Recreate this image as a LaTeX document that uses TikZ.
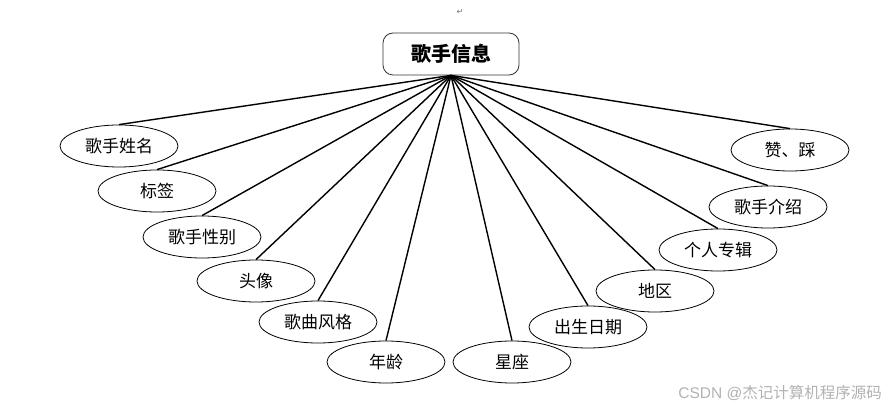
\documentclass[tikz,border=0pt]{standalone}
\usepackage{fontspec}
\setmainfont{Liberation Sans}
\newfontfamily\cjk{Noto Sans CJK SC}
\newfontfamily\dejavu{DejaVu Sans}
\usetikzlibrary{shapes.geometric}
\begin{document}
\begin{tikzpicture}[x=1pt,y=-1pt,
  attr/.style={draw=black,line width=0.8pt,ellipse,minimum width=118pt,minimum height=42pt,inner sep=0pt,
    font=\cjk\fontsize{17}{17}\selectfont},
  head/.style={draw=black!80,line width=0.8pt,rounded corners=10pt,minimum width=136pt,minimum height=42pt,
    inner sep=0pt,font=\cjk\bfseries\fontsize{20}{20}\selectfont},
  link/.style={line width=1.4pt}]
\useasboundingbox (0,0) rectangle (887,414);
\fill[white] (0,0) rectangle (887,414);
\node[text=black!55,font=\dejavu\fontsize{8}{8}\selectfont] (ret) at (460,12) {↵};
\node[head] (top) at (451,54) {歌手信息};
\node[attr] (a1) at (119,146) {歌手姓名};
\node[attr] (a2) at (157,191) {标签};
\node[attr] (a3) at (202,237) {歌手性别};
\node[attr] (a4) at (256,281) {头像};
\node[attr] (a5) at (318,322) {歌曲风格};
\node[attr] (a6) at (386,362) {年龄};
\node[attr] (a7) at (512,362) {星座};
\node[attr] (a8) at (588,327) {出生日期};
\node[attr] (a9) at (655,291) {地区};
\node[attr] (a10) at (718,250) {个人专辑};
\node[attr] (a11) at (768,207) {歌手介绍};
\node[attr] (a12) at (790,150) {赞、踩};
\foreach \n in {a1,a2,a3,a4,a5,a6,a7,a8,a9,a10,a11,a12}
  \draw[link] (top.south) -- (\n.north);
\node[anchor=east,inner sep=0pt,text=black!30,font=\fontsize{15.5}{15.5}\selectfont] (wm) at (882,393)
  {CSDN @{\cjk 杰记计算机程序源码}};
\end{tikzpicture}
\end{document}
